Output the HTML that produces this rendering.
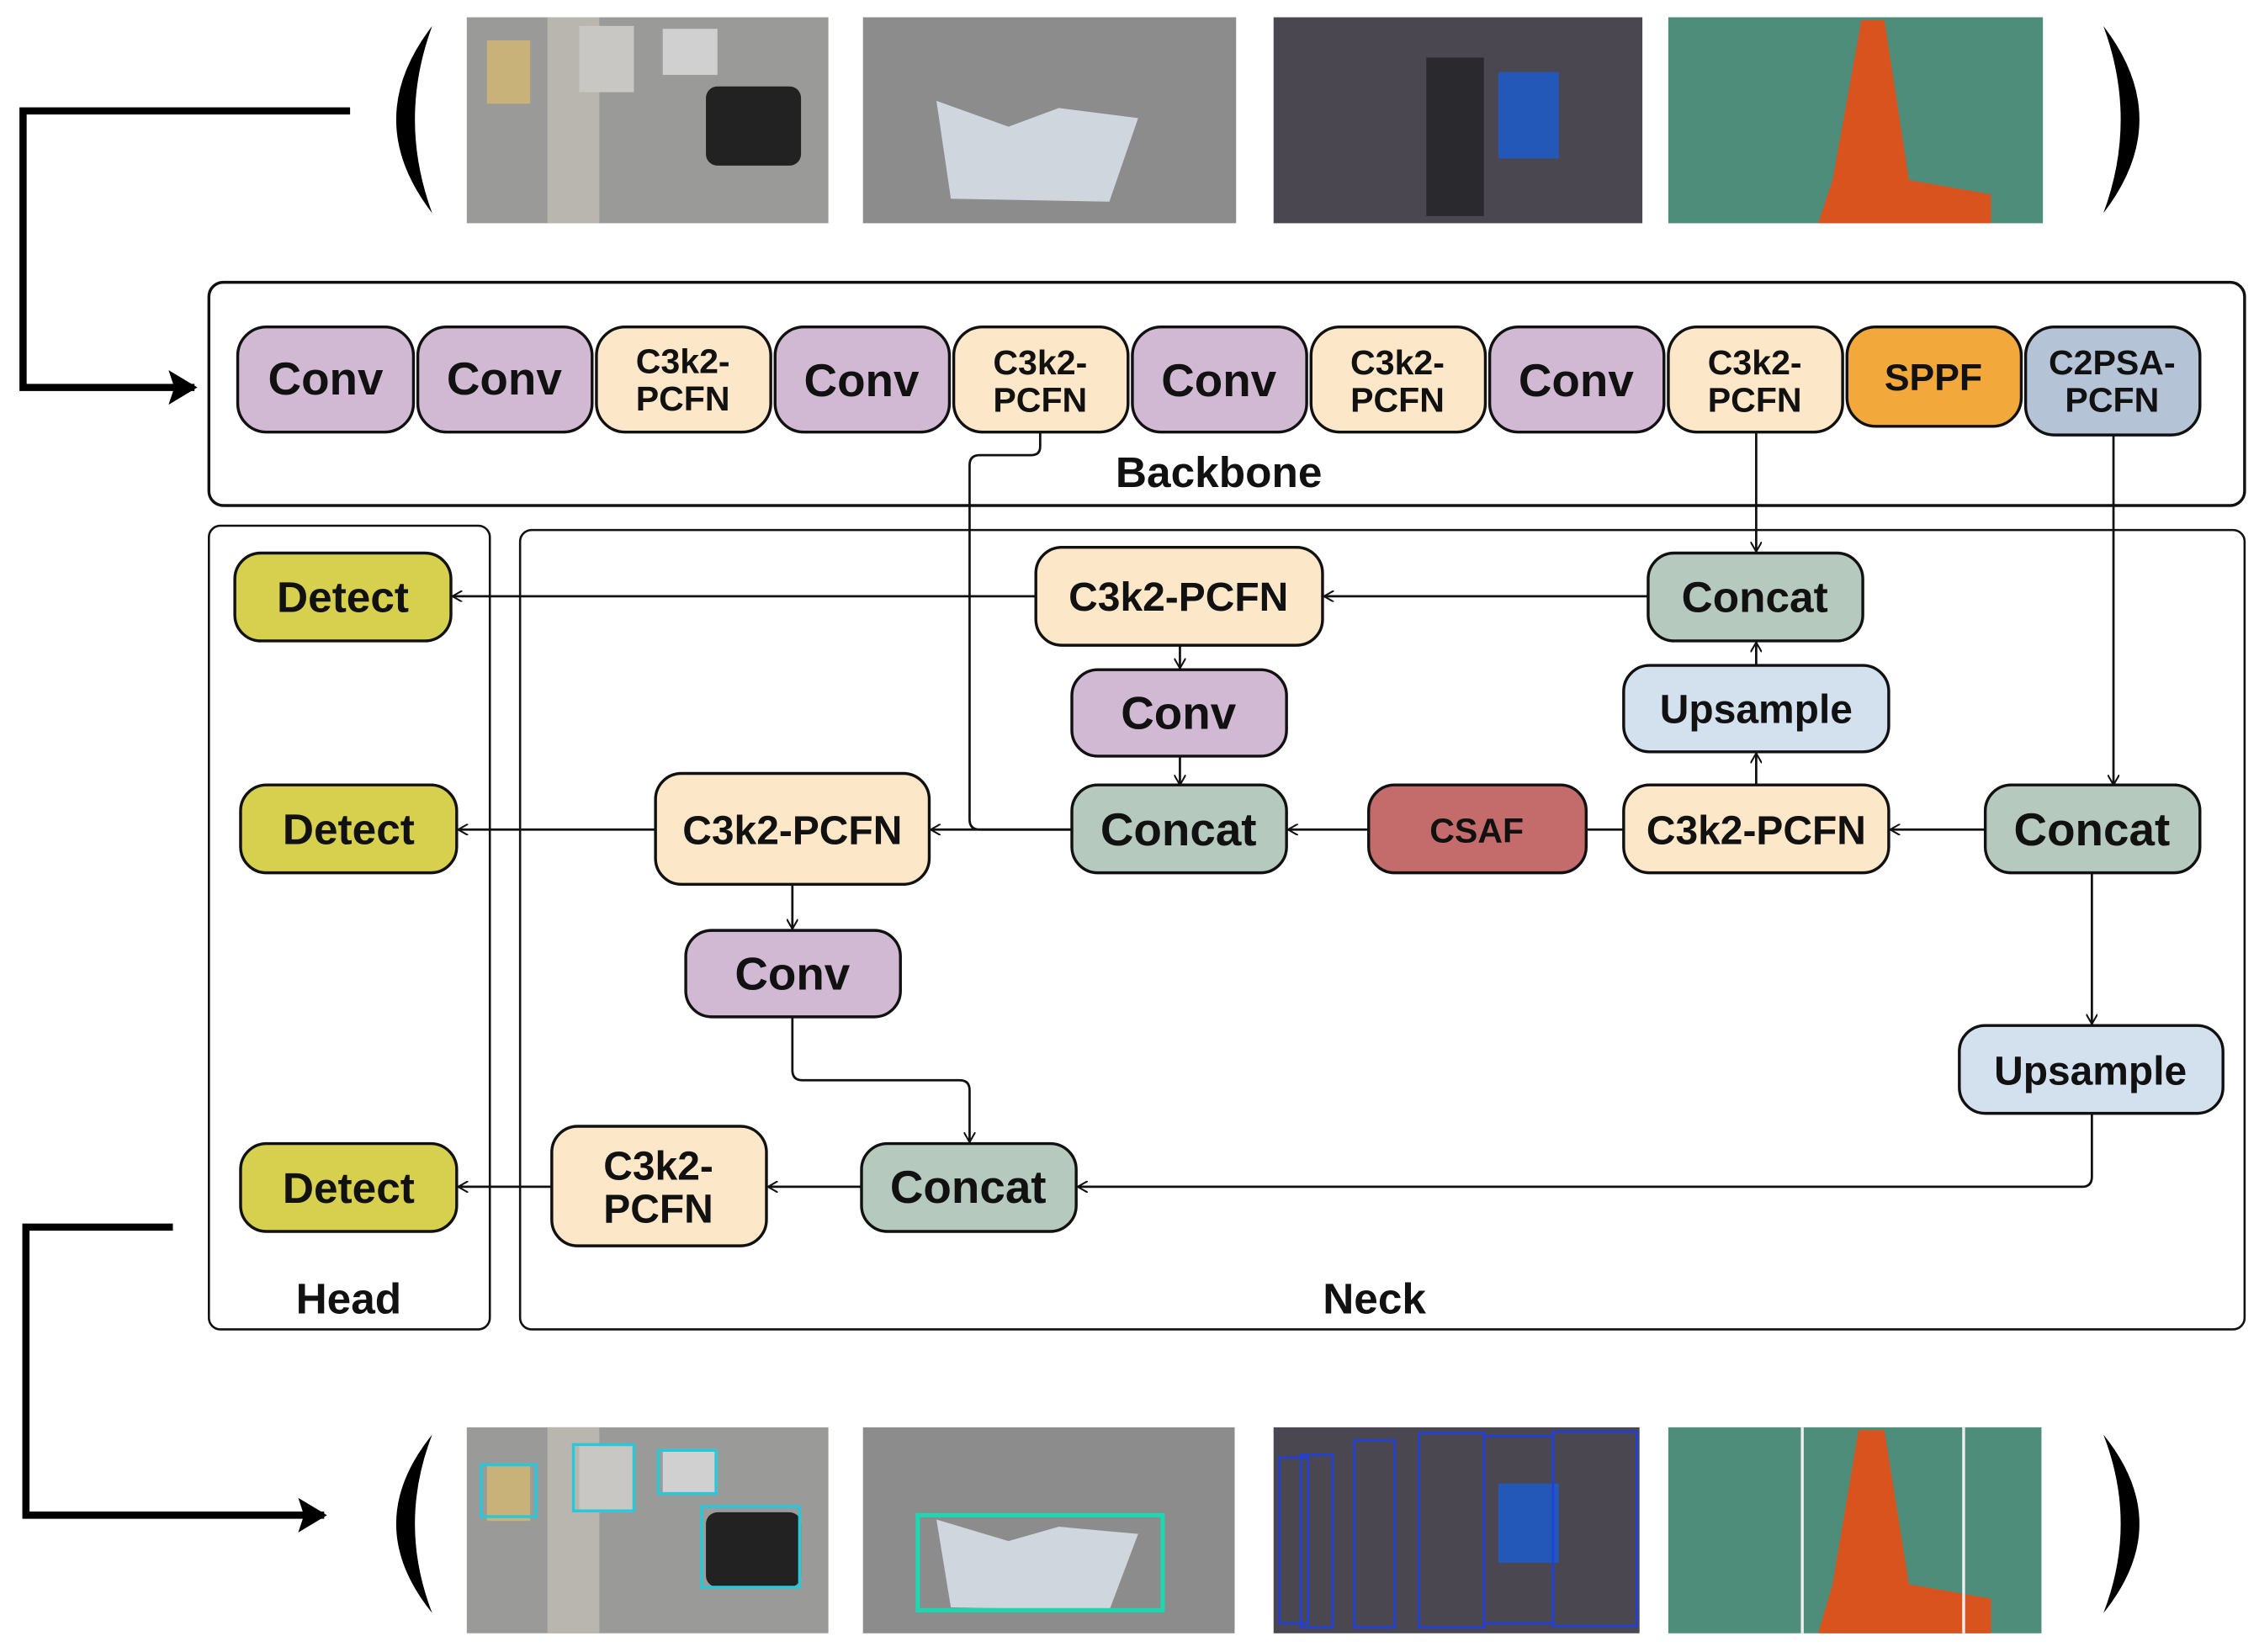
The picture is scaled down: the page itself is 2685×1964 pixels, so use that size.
<!DOCTYPE html>
<html><head><meta charset="utf-8"><style>
html,body{margin:0;padding:0;background:#fff}
svg{display:block}
text{font-family:"Liberation Sans",sans-serif;font-weight:bold;fill:#111}
</style></head><body>
<svg width="2685" height="1964" viewBox="0 0 1568 1147" preserveAspectRatio="none" xmlns="http://www.w3.org/2000/svg">
<defs>
<marker id="a" markerWidth="8" markerHeight="8" refX="7" refY="4" orient="auto" markerUnits="userSpaceOnUse"><path d="M0,0 L7,4 L0,8" fill="none" stroke="#111" stroke-width="1.2"/></marker>
<marker id="big" markerWidth="20" markerHeight="24" refX="18" refY="12" orient="auto" markerUnits="userSpaceOnUse"><path d="M0,0 L20,12 L0,24 L4,12 Z" fill="#000"/></marker>
</defs>

<g>
<rect x="324" y="12" width="251" height="143" fill="#9a9a98"/>
<rect x="380" y="12" width="36" height="143" fill="#b9b6b0"/>
<rect x="338" y="28" width="30" height="44" fill="#c8b27a"/>
<rect x="402" y="18" width="38" height="46" fill="#c9c7c4"/>
<rect x="460" y="20" width="38" height="32" fill="#d0d0d0"/>
<rect x="490" y="60" width="66" height="55" fill="#222" rx="8"/>
<rect x="599" y="12" width="259" height="143" fill="#8c8c8c"/>
<path d="M650,70 L700,88 L735,75 L790,82 L770,140 L660,138 Z" fill="#cfd6de"/>
<rect x="884" y="12" width="256" height="143" fill="#4b4750"/>
<rect x="1040" y="50" width="42" height="60" fill="#2458b8"/>
<rect x="990" y="40" width="40" height="110" fill="#2a2a2e"/>
<rect x="1158" y="12" width="260" height="143" fill="#4f8d7b"/>
<path d="M1292,14 L1308,14 L1325,125 L1382,135 L1382,155 L1262,155 L1272,125 Z" fill="#d9531e"/>
</g>
<path d="M300,18 Q250,83 300,148 Q276,83 300,18 Z" fill="#000"/>
<path d="M1460,18 Q1510,83 1460,148 Q1484,83 1460,18 Z" fill="#000"/>

<g>
<rect x="324" y="991" width="251" height="143" fill="#9a9a98"/>
<rect x="380" y="991" width="36" height="143" fill="#b9b6b0"/>
<rect x="338" y="1018" width="30" height="38" fill="#c8b27a"/>
<rect x="402" y="1004" width="38" height="46" fill="#c9c7c4"/>
<rect x="460" y="1006" width="38" height="30" fill="#d0d0d0"/>
<rect x="490" y="1050" width="66" height="52" fill="#222" rx="8"/>
<g fill="none" stroke="#29c8d8" stroke-width="2"><rect x="334" y="1017" width="38" height="36"/><rect x="398" y="1003" width="42" height="46"/><rect x="457" y="1007" width="40" height="30"/><rect x="487" y="1046" width="68" height="56"/></g>
<rect x="599" y="991" width="258" height="143" fill="#8c8c8c"/>
<path d="M650,1055 L700,1070 L735,1060 L790,1065 L770,1118 L660,1116 Z" fill="#cfd6de"/>
<rect x="637" y="1052" width="170" height="66" fill="none" stroke="#1ed6b0" stroke-width="3"/>
<rect x="884" y="991" width="254" height="143" fill="#4b4750"/>
<rect x="1040" y="1030" width="42" height="55" fill="#2458b8"/>
<g fill="none" stroke="#1f3fe0" stroke-width="1.5"><rect x="888" y="1012" width="20" height="115"/><rect x="903" y="1010" width="22" height="120"/><rect x="940" y="1000" width="28" height="130"/><rect x="985" y="995" width="45" height="135"/><rect x="1030" y="997" width="48" height="130"/><rect x="1078" y="994" width="58" height="135"/></g>
<rect x="1158" y="991" width="259" height="143" fill="#4f8d7b"/>
<path d="M1290,993 L1308,993 L1325,1100 L1382,1110 L1382,1134 L1262,1134 L1272,1100 Z" fill="#d9531e"/>
<line x1="1251" y1="991" x2="1251" y2="1134" stroke="#eee" stroke-width="2"/>
<line x1="1363" y1="991" x2="1363" y2="1134" stroke="#eee" stroke-width="2"/>
</g>
<path d="M300,996 Q250,1058 300,1120 Q276,1058 300,996 Z" fill="#000"/>
<path d="M1460,996 Q1510,1058 1460,1120 Q1484,1058 1460,996 Z" fill="#000"/>

<polyline points="243,77 16,77 16,269 135,269" fill="none" stroke="#000" stroke-width="5" marker-end="url(#big)"/>
<polyline points="120,852 18,852 18,1052 225,1052" fill="none" stroke="#000" stroke-width="5" marker-end="url(#big)"/>

<rect x="145" y="196" width="1413" height="155" rx="10" fill="none" stroke="#111" stroke-width="2"/>
<text x="846" y="338" font-size="30" text-anchor="middle">Backbone</text>
<rect x="145" y="365" width="195" height="558" rx="8" fill="none" stroke="#111" stroke-width="1.5"/>
<text x="242" y="912" font-size="30" text-anchor="middle">Head</text>
<rect x="361" y="368" width="1197" height="555" rx="8" fill="none" stroke="#111" stroke-width="1.5"/>
<text x="954" y="912" font-size="30" text-anchor="middle">Neck</text>

<g fill="none" stroke="#111" stroke-width="1.6">
<path d="M722,300 V310 Q722,316 716,316 H680 Q673,316 673,323 V569 Q673,576 680,576 H744"/>
<line x1="1219" y1="300" x2="1219" y2="383" marker-end="url(#a)"/>
<line x1="1467" y1="302" x2="1467" y2="545" marker-end="url(#a)"/>
<line x1="1144" y1="414" x2="919" y2="414" marker-end="url(#a)"/>
<line x1="719" y1="414" x2="314" y2="414" marker-end="url(#a)"/>
<line x1="819" y1="448" x2="819" y2="464" marker-end="url(#a)"/>
<line x1="819" y1="525" x2="819" y2="545" marker-end="url(#a)"/>
<line x1="1219" y1="462" x2="1219" y2="446" marker-end="url(#a)"/>
<line x1="1219" y1="545" x2="1219" y2="523" marker-end="url(#a)"/>
<line x1="1378" y1="576" x2="1312" y2="576" marker-end="url(#a)"/>
<line x1="1127" y1="576" x2="1101" y2="576"/>
<line x1="950" y1="576" x2="894" y2="576" marker-end="url(#a)"/>
<line x1="744" y1="576" x2="646" y2="576" marker-end="url(#a)"/>
<line x1="455" y1="576" x2="318" y2="576" marker-end="url(#a)"/>
<line x1="550" y1="614" x2="550" y2="645" marker-end="url(#a)"/>
<path d="M550,706 V743 Q550,750 557,750 H666 Q673,750 673,757 V793" marker-end="url(#a)"/>
<line x1="1452" y1="606" x2="1452" y2="711" marker-end="url(#a)"/>
<path d="M1452,773 V817 Q1452,824 1445,824 H748" marker-end="url(#a)"/>
<line x1="598" y1="824" x2="533" y2="824" marker-end="url(#a)"/>
<line x1="383" y1="824" x2="318" y2="824" marker-end="url(#a)"/>
</g>

<g stroke="#111" stroke-width="2">
<rect x="165" y="227" width="122" height="73" rx="20" fill="#d2b9d3"/>
<rect x="290" y="227" width="121" height="73" rx="20" fill="#d2b9d3"/>
<rect x="414" y="227" width="121" height="73" rx="20" fill="#fde7c9"/>
<rect x="538" y="227" width="121" height="73" rx="20" fill="#d2b9d3"/>
<rect x="662" y="227" width="121" height="73" rx="20" fill="#fde7c9"/>
<rect x="786" y="227" width="121" height="73" rx="20" fill="#d2b9d3"/>
<rect x="910" y="227" width="121" height="73" rx="20" fill="#fde7c9"/>
<rect x="1034" y="227" width="121" height="73" rx="20" fill="#d2b9d3"/>
<rect x="1158" y="227" width="121" height="73" rx="20" fill="#fde7c9"/>
<rect x="1282" y="227" width="121" height="69" rx="20" fill="#f2a83a"/>
<rect x="1406" y="227" width="121" height="75" rx="20" fill="#b4c4d6"/>

<rect x="719" y="380" width="199" height="68" rx="18" fill="#fde7c9"/>
<rect x="1144" y="384" width="149" height="61" rx="18" fill="#b5c9be"/>
<rect x="744" y="465" width="149" height="60" rx="18" fill="#d2b9d3"/>
<rect x="1127" y="462" width="184" height="60" rx="18" fill="#d3e1ef"/>
<rect x="455" y="537" width="190" height="77" rx="18" fill="#fde7c9"/>
<rect x="744" y="545" width="149" height="61" rx="18" fill="#b5c9be"/>
<rect x="950" y="545" width="151" height="61" rx="18" fill="#c46b6b"/>
<rect x="1127" y="545" width="184" height="61" rx="18" fill="#fde7c9"/>
<rect x="1378" y="545" width="149" height="61" rx="18" fill="#b5c9be"/>
<rect x="476" y="646" width="149" height="60" rx="18" fill="#d2b9d3"/>
<rect x="1360" y="712" width="183" height="61" rx="18" fill="#d3e1ef"/>
<rect x="383" y="782" width="149" height="83" rx="18" fill="#fde7c9"/>
<rect x="598" y="794" width="149" height="61" rx="18" fill="#b5c9be"/>
<rect x="163" y="384" width="150" height="61" rx="18" fill="#d6d04e"/>
<rect x="167" y="545" width="150" height="61" rx="18" fill="#d6d04e"/>
<rect x="167" y="794" width="150" height="61" rx="18" fill="#d6d04e"/>
</g>

<g text-anchor="middle">
<text x="226" y="274" font-size="32">Conv</text>
<text x="350" y="274" font-size="32">Conv</text>
<text x="474" y="259" font-size="24">C3k2-</text><text x="474" y="285" font-size="24">PCFN</text>
<text x="598" y="275" font-size="32">Conv</text>
<text x="722" y="260" font-size="24">C3k2-</text><text x="722" y="286" font-size="24">PCFN</text>
<text x="846" y="275" font-size="32">Conv</text>
<text x="970" y="260" font-size="24">C3k2-</text><text x="970" y="286" font-size="24">PCFN</text>
<text x="1094" y="275" font-size="32">Conv</text>
<text x="1218" y="260" font-size="24">C3k2-</text><text x="1218" y="286" font-size="24">PCFN</text>
<text x="1342" y="271" font-size="26">SPPF</text>
<text x="1466" y="260" font-size="24">C2PSA-</text><text x="1466" y="286" font-size="24">PCFN</text>

<text x="818" y="424" font-size="28">C3k2-PCFN</text>
<text x="1218" y="425" font-size="30">Concat</text>
<text x="818" y="506" font-size="32">Conv</text>
<text x="1219" y="502" font-size="28">Upsample</text>
<text x="550" y="586" font-size="28">C3k2-PCFN</text>
<text x="818" y="587" font-size="32">Concat</text>
<text x="1025" y="585" font-size="24">CSAF</text>
<text x="1219" y="586" font-size="28">C3k2-PCFN</text>
<text x="1452" y="587" font-size="32">Concat</text>
<text x="550" y="687" font-size="32">Conv</text>
<text x="1451" y="753" font-size="28">Upsample</text>
<text x="457" y="819" font-size="28">C3k2-</text><text x="457" y="849" font-size="28">PCFN</text>
<text x="672" y="835" font-size="32">Concat</text>
<text x="238" y="425" font-size="30">Detect</text>
<text x="242" y="586" font-size="30">Detect</text>
<text x="242" y="835" font-size="30">Detect</text>
</g>
</svg>
</body></html>
